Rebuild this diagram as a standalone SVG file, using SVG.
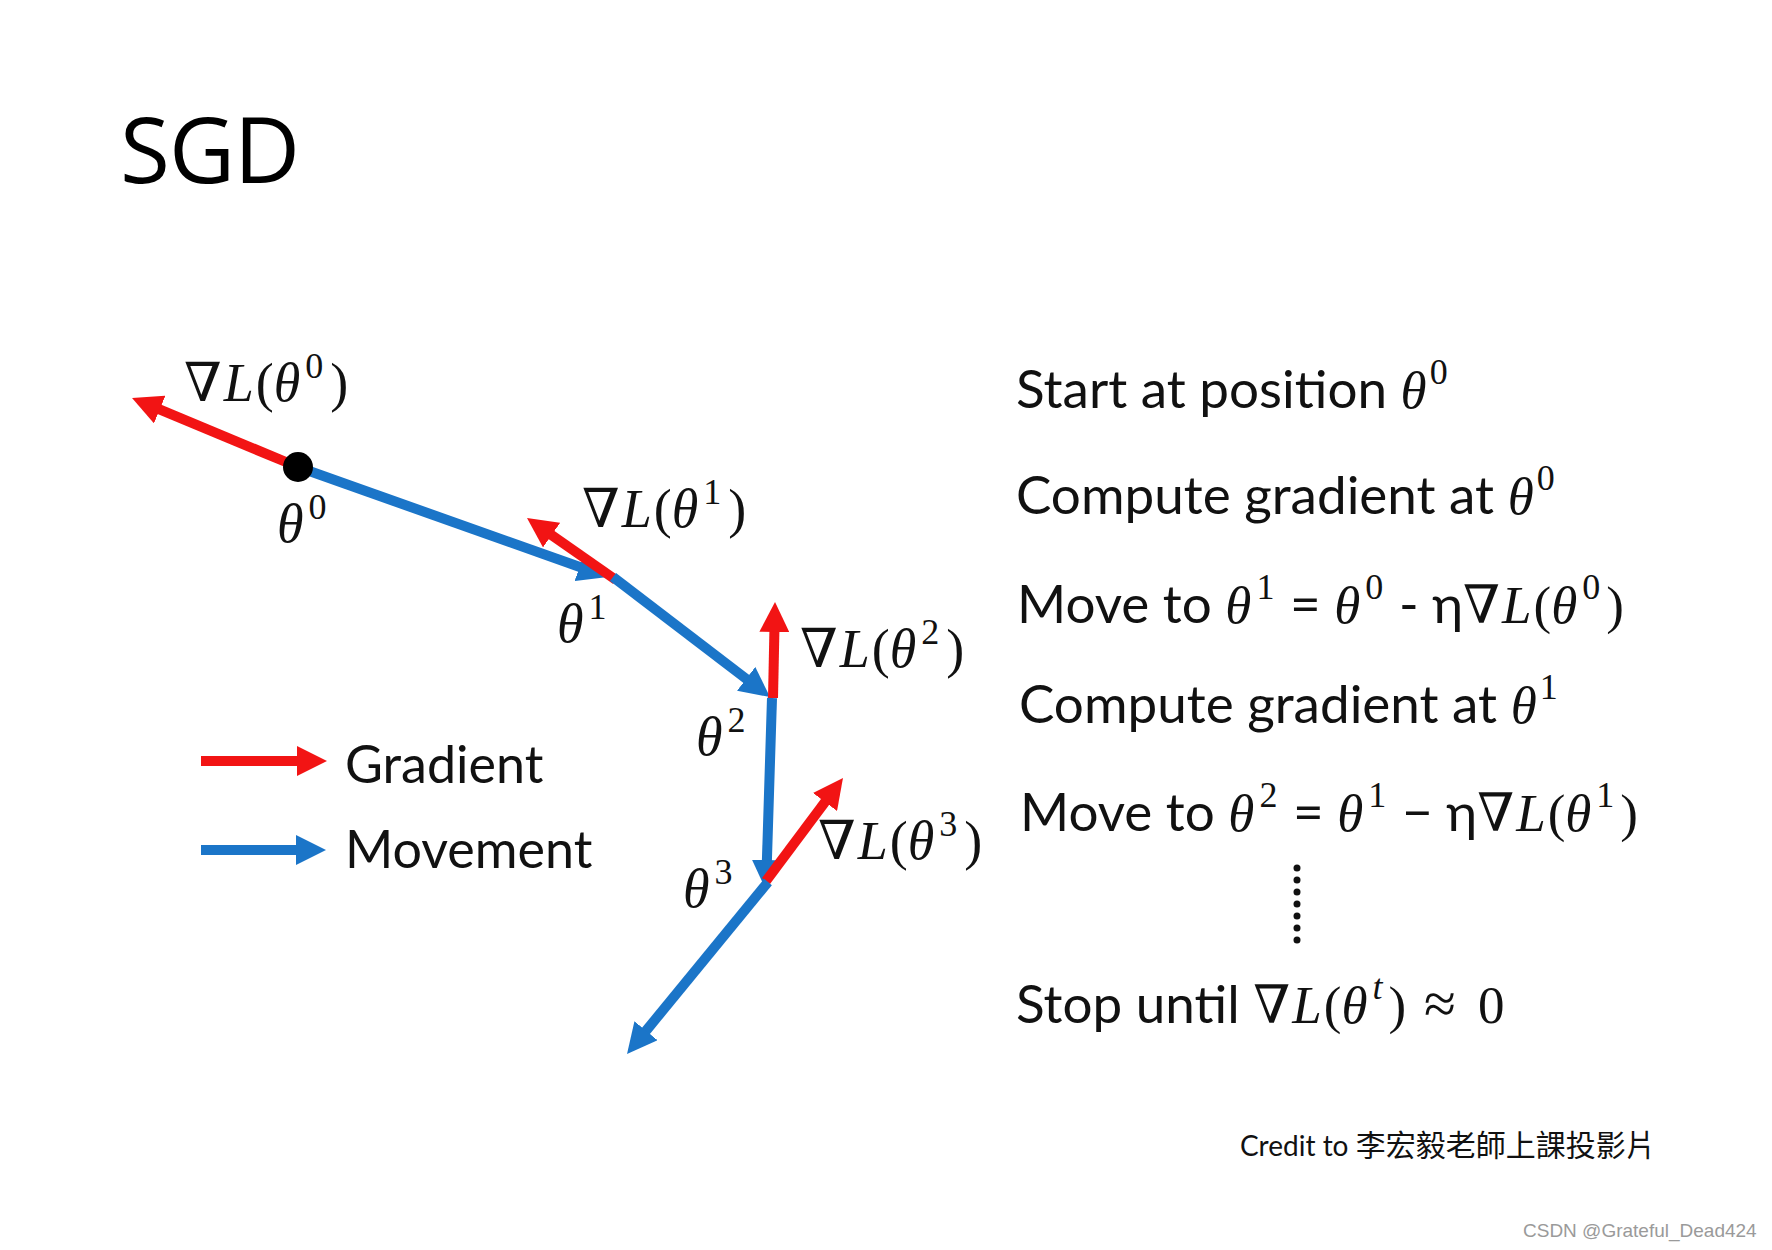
<svg xmlns="http://www.w3.org/2000/svg" width="1772" height="1250" viewBox="0 0 1772 1250">
<style>
.body{font-family:Lato,"Open Sans","Liberation Sans",sans-serif;fill:#111;}
.math{font-family:"Liberation Serif","DejaVu Serif",serif;font-style:italic;fill:#111;}
.up{font-style:normal;}
.grad{stroke:#f21414;stroke-width:10;fill:none;}
.move{stroke:#1b75c8;stroke-width:10;fill:none;}
.title{font-family:"Open Sans","Noto Sans",sans-serif;font-size:91px;letter-spacing:-1px;fill:#000;}
</style>
<defs>
<marker id="headRed" markerUnits="userSpaceOnUse" markerWidth="30" markerHeight="30" refX="10" refY="15" orient="auto">
<path d="M0,0 L30,15 L0,30 z" fill="#f21414"/>
</marker>
<marker id="headBlue" markerUnits="userSpaceOnUse" markerWidth="30" markerHeight="30" refX="10" refY="15" orient="auto">
<path d="M0,0 L30,15 L0,30 z" fill="#1b75c8"/>
</marker>
</defs>
<rect width="1772" height="1250" fill="#fff"/>
<g id="title"><text class="title" x="120" y="183">SGD</text></g>

<g id="connectors">
<line class="grad" x1="298" y1="467" x2="150.5" y2="405.7" marker-end="url(#headRed)"/>
<line class="move" x1="298" y1="467" x2="589" y2="570.3" marker-end="url(#headBlue)"/>
<line class="grad" x1="616" y1="580" x2="543.4" y2="529.4" marker-end="url(#headRed)"/>
<line class="move" x1="613" y1="577" x2="754.1" y2="684.9" marker-end="url(#headBlue)"/>
<line class="grad" x1="773" y1="698" x2="774.6" y2="622" marker-end="url(#headRed)"/>
<line class="move" x1="772" y1="698" x2="766.6" y2="870" marker-end="url(#headBlue)"/>
<line class="grad" x1="766" y1="881" x2="831" y2="794" marker-end="url(#headRed)"/>
<line class="move" x1="768" y1="882" x2="639.7" y2="1038.5" marker-end="url(#headBlue)"/>
</g>

<g id="theta0">
<circle cx="298" cy="467" r="15" fill="#000"/>
<text class="math" x="277" y="542" font-size="54">θ<tspan class="up" font-size="36" dx="5" dy="-23">0</tspan></text>
</g>
<g id="grad0-label"><text class="math" x="184" y="401" font-size="54">∇<tspan dx="2">L</tspan><tspan class="up" dx="2">(</tspan>θ<tspan class="up" font-size="36" dx="5" dy="-23">0</tspan><tspan class="up" dx="7" dy="23">)</tspan></text></g>
<g id="theta1"><text class="math" x="557" y="642" font-size="54">θ<tspan class="up" font-size="36" dx="5" dy="-23">1</tspan></text></g>
<g id="grad1-label"><text class="math" x="582" y="527" font-size="54">∇<tspan dx="2">L</tspan><tspan class="up" dx="2">(</tspan>θ<tspan class="up" font-size="36" dx="5" dy="-23">1</tspan><tspan class="up" dx="7" dy="23">)</tspan></text></g>
<g id="theta2"><text class="math" x="696" y="755" font-size="54">θ<tspan class="up" font-size="36" dx="5" dy="-23">2</tspan></text></g>
<g id="grad2-label"><text class="math" x="800" y="667" font-size="54">∇<tspan dx="2">L</tspan><tspan class="up" dx="2">(</tspan>θ<tspan class="up" font-size="36" dx="5" dy="-23">2</tspan><tspan class="up" dx="7" dy="23">)</tspan></text></g>
<g id="theta3"><text class="math" x="683" y="907" font-size="54">θ<tspan class="up" font-size="36" dx="5" dy="-23">3</tspan></text></g>
<g id="grad3-label"><text class="math" x="818" y="859" font-size="54">∇<tspan dx="2">L</tspan><tspan class="up" dx="2">(</tspan>θ<tspan class="up" font-size="36" dx="5" dy="-23">3</tspan><tspan class="up" dx="7" dy="23">)</tspan></text></g>

<g id="legend">
<line class="grad" x1="201" y1="761" x2="307" y2="761" marker-end="url(#headRed)"/>
<text class="body" x="345" y="783" font-size="52">Gradient</text>
<line class="move" x1="201" y1="850" x2="306" y2="850" marker-end="url(#headBlue)"/>
<text class="body" x="345" y="868" font-size="52">Movement</text>
</g>

<g id="steps" font-size="53">
<text class="body" x="1016" y="408">Start at position <tspan class="math">θ</tspan><tspan class="math up" font-size="36" dx="3" dy="-24">0</tspan></text>
<text class="body" x="1016" y="514">Compute gradient at <tspan class="math">θ</tspan><tspan class="math up" font-size="36" dx="3" dy="-24">0</tspan></text>
<text class="body" x="1017" y="623">Move to <tspan class="math">θ</tspan><tspan class="math up" font-size="36" dx="5" dy="-24">1</tspan><tspan dx="2" dy="24"> = </tspan><tspan class="math">θ</tspan><tspan class="math up" font-size="36" dx="5" dy="-24">0</tspan><tspan dx="2" dy="24"> - η</tspan><tspan class="math">∇</tspan><tspan class="math" dx="2">L</tspan><tspan class="math up" dx="2">(</tspan><tspan class="math">θ</tspan><tspan class="math up" font-size="36" dx="5" dy="-24">0</tspan><tspan class="math up" dx="6" dy="24">)</tspan></text>
<text class="body" x="1019" y="723">Compute gradient at <tspan class="math">θ</tspan><tspan class="math up" font-size="36" dx="3" dy="-24">1</tspan></text>
<text class="body" x="1020" y="831">Move to <tspan class="math">θ</tspan><tspan class="math up" font-size="36" dx="5" dy="-24">2</tspan><tspan dx="2" dy="24"> = </tspan><tspan class="math">θ</tspan><tspan class="math up" font-size="36" dx="5" dy="-24">1</tspan><tspan dx="2" dy="24"> − η</tspan><tspan class="math">∇</tspan><tspan class="math" dx="2">L</tspan><tspan class="math up" dx="2">(</tspan><tspan class="math">θ</tspan><tspan class="math up" font-size="36" dx="5" dy="-24">1</tspan><tspan class="math up" dx="6" dy="24">)</tspan></text>
<g fill="#111">
<circle cx="1297" cy="868" r="3.5"/><circle cx="1297" cy="880" r="3.5"/><circle cx="1297" cy="892" r="3.5"/><circle cx="1297" cy="904" r="3.5"/><circle cx="1297" cy="916" r="3.5"/><circle cx="1297" cy="928" r="3.5"/><circle cx="1297" cy="940" r="3.5"/>
</g>
<text class="body" x="1016" y="1023">Stop until <tspan class="math">∇</tspan><tspan class="math" dx="2">L</tspan><tspan class="math up" dx="2">(</tspan><tspan class="math">θ</tspan><tspan class="math" font-size="36" dx="5" dy="-24">t</tspan><tspan class="math up" dx="6" dy="24">)</tspan><tspan class="math up" dx="18" font-size="58">≈</tspan><tspan class="math up" dx="22">0</tspan></text>
</g>

<g id="credit">
<text class="body" x="1240" y="1156" font-size="28">Credit to <tspan font-family="'Noto Sans CJK TC','Noto Sans CJK SC',sans-serif" font-size="30">李宏毅老師上課投影片</tspan></text>
</g>
<g id="watermark">
<text x="1523" y="1237" font-family="'Liberation Sans',Arial,sans-serif" font-size="19" fill="#9a9a9a">CSDN @Grateful_Dead424</text>
</g>
</svg>
